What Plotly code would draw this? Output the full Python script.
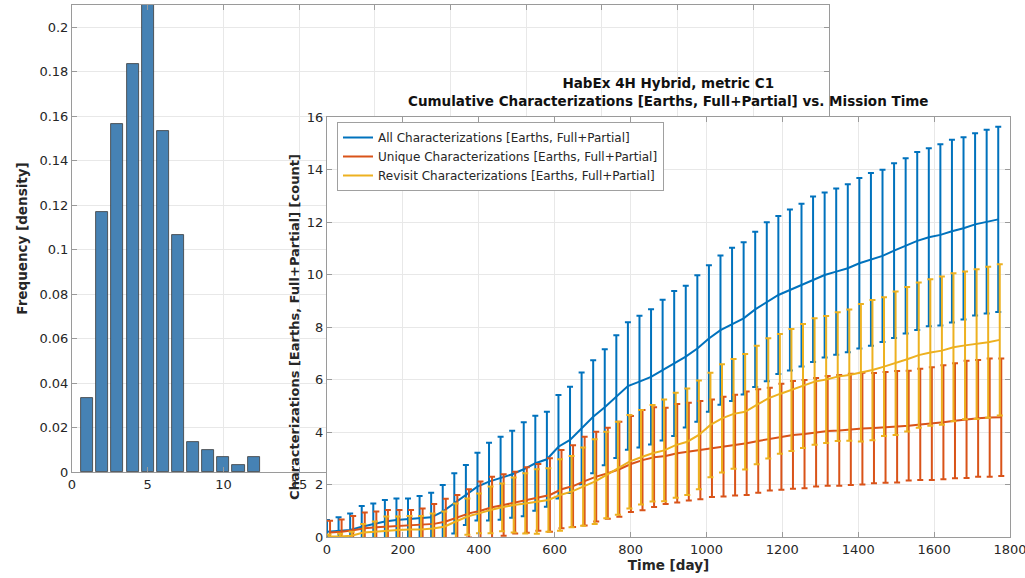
import plotly.graph_objects as go

# ---------------- data ----------------
# Left histogram
hist_bins = [1, 2, 3, 4, 5, 6, 7, 8, 9, 10, 11, 12]
hist_freq = [0.0333, 0.1167, 0.1567, 0.1833, 0.2167, 0.1533, 0.1067,
             0.0133, 0.0100, 0.0067, 0.0033, 0.0067]

# Right chart: mission time [day]
time_day = [0, 30.5, 61, 91.5, 122, 152.5, 183, 213.5, 244, 274.5, 305, 335.5,
            366, 396.5, 427, 457.5, 488, 518.5, 549, 579.5, 610, 640.5, 671,
            701.5, 732, 762.5, 793, 823.5, 854, 884.5, 915, 945.5, 976, 1006.5,
            1037, 1067.5, 1098, 1128.5, 1159, 1189.5, 1220, 1250.5, 1281,
            1311.5, 1342, 1372.5, 1403, 1433.5, 1464, 1494.5, 1525, 1555.5,
            1586, 1616.5, 1647, 1677.5, 1708, 1738.5, 1769]

all_mean = [0.20, 0.23, 0.27, 0.39, 0.50, 0.59, 0.65, 0.68, 0.71, 0.75, 0.97,
            1.28, 1.60, 1.92, 2.11, 2.24, 2.39, 2.58, 2.81, 2.96, 3.44, 3.70,
            4.14, 4.58, 4.94, 5.35, 5.75, 5.92, 6.10, 6.36, 6.61, 6.87, 7.18,
            7.56, 7.88, 8.10, 8.33, 8.67, 8.96, 9.22, 9.41, 9.60, 9.82, 9.98,
            10.11, 10.24, 10.43, 10.58, 10.71, 10.91, 11.09, 11.28, 11.42,
            11.51, 11.65, 11.76, 11.91, 12.01, 12.10]
all_std = [0.45, 0.52, 0.63, 0.79, 0.78, 0.82, 0.82, 0.79, 0.85, 0.94, 1.01,
           1.15, 1.14, 1.29, 1.48, 1.58, 1.66, 1.79, 1.81, 1.81, 1.97, 2.02,
           2.13, 2.15, 2.21, 2.34, 2.43, 2.51, 2.58, 2.68, 2.76, 2.70, 2.79,
           2.79, 2.84, 2.92, 2.90, 2.96, 3.03, 3.01, 3.07, 3.10, 3.15, 3.14,
           3.17, 3.20, 3.25, 3.29, 3.28, 3.33, 3.34, 3.39, 3.39, 3.45, 3.48,
           3.47, 3.47, 3.50, 3.53]

uniq_mean = [0.17, 0.20, 0.26, 0.33, 0.37, 0.40, 0.42, 0.44, 0.47, 0.50, 0.59,
             0.75, 0.90, 1.00, 1.13, 1.22, 1.31, 1.41, 1.51, 1.60, 1.82, 1.94,
             2.13, 2.30, 2.43, 2.58, 2.78, 2.93, 3.04, 3.09, 3.19, 3.25, 3.31,
             3.38, 3.44, 3.50, 3.57, 3.66, 3.73, 3.82, 3.89, 3.92, 3.99, 4.04,
             4.06, 4.10, 4.13, 4.15, 4.18, 4.20, 4.24, 4.29, 4.32, 4.37, 4.43,
             4.48, 4.52, 4.55, 4.56]
uniq_std = [0.45, 0.47, 0.54, 0.60, 0.60, 0.63, 0.61, 0.59, 0.62, 0.76, 0.87,
            0.85, 0.92, 1.11, 1.17, 1.17, 1.18, 1.25, 1.27, 1.40, 1.49, 1.56,
            1.69, 1.71, 1.73, 1.81, 1.83, 1.91, 1.90, 1.83, 1.88, 1.86, 1.87,
            1.86, 1.90, 1.92, 1.97, 1.97, 1.96, 2.02, 2.05, 2.06, 2.07, 2.09,
            2.11, 2.12, 2.13, 2.10, 2.11, 2.12, 2.09, 2.12, 2.15, 2.17, 2.19,
            2.23, 2.22, 2.25, 2.24]

rev_mean = [0.02, 0.02, 0.05, 0.17, 0.20, 0.24, 0.27, 0.29, 0.29, 0.32, 0.39,
            0.59, 0.78, 0.90, 1.03, 1.13, 1.22, 1.28, 1.35, 1.41, 1.60, 1.73,
            1.92, 2.11, 2.36, 2.62, 2.87, 3.04, 3.19, 3.30, 3.50, 3.63, 3.89,
            4.27, 4.52, 4.69, 4.77, 5.03, 5.28, 5.45, 5.60, 5.75, 5.92, 6.00,
            6.11, 6.17, 6.26, 6.36, 6.49, 6.62, 6.77, 6.93, 7.03, 7.10, 7.23,
            7.30, 7.35, 7.42, 7.51]
rev_std = [0.08, 0.10, 0.15, 0.33, 0.39, 0.54, 0.51, 0.51, 0.51, 0.58, 0.58,
           0.69, 0.69, 0.76, 0.89, 0.91, 1.05, 1.15, 1.23, 1.21, 1.36, 1.36,
           1.49, 1.61, 1.65, 1.77, 1.78, 1.80, 1.84, 1.94, 2.00, 2.03, 2.07,
           1.99, 2.06, 2.09, 2.20, 2.26, 2.29, 2.28, 2.32, 2.36, 2.41, 2.42,
           2.45, 2.50, 2.62, 2.67, 2.64, 2.73, 2.75, 2.77, 2.79, 2.82, 2.82,
           2.81, 2.85, 2.88, 2.88]

series_names = ["All Characterizations [Earths, Full+Partial]",
                "Unique Characterizations [Earths, Full+Partial]",
                "Revisit Characterizations [Earths, Full+Partial]"]

# ---------------- figure ----------------
W, H = 1025, 578
FONT = "DejaVu Sans"
TXT = "#262626"
AXC = "#9a9a9a"
GRID = "#e8e8e8"

def px_x(p):
    return p / W

def px_y(p):
    return 1 - p / H

fig = go.Figure()

fig.add_trace(go.Bar(
    x=hist_bins, y=hist_freq, width=0.8,
    marker=dict(color="#4682b4", line=dict(color="#3a3a3a", width=0.8)),
    xaxis="x", yaxis="y", showlegend=False))

colors = ["#0072bd", "#d95319", "#edb120"]
offsets = [0, 8, 4]
means = [all_mean, uniq_mean, rev_mean]
stds = [all_std, uniq_std, rev_std]
for name, c, off, m, s in zip(series_names, colors, offsets, means, stds):
    fig.add_trace(go.Scatter(
        x=[t + off for t in time_day], y=m, name=name, mode="lines",
        line=dict(color=c, width=2),
        error_y=dict(type="data", array=s, symmetric=True, color=c,
                     thickness=2, width=3),
        xaxis="x2", yaxis="y2"))

axis_common = dict(showline=True, linecolor=AXC, linewidth=1, mirror="ticks",
                   ticks="inside", ticklen=5, tickcolor=AXC, automargin=False,
                   ticklabeloverflow="allow",
                   showgrid=True, gridcolor=GRID, gridwidth=1, zeroline=False,
                   tickfont=dict(family=FONT, size=13, color=TXT))

fig.update_layout(
    width=W, height=H,
    margin=dict(l=0, r=0, t=0, b=0, pad=0, autoexpand=False),
    paper_bgcolor="white", plot_bgcolor="white",
    font=dict(family=FONT, color=TXT),
    bargap=0,
    xaxis=dict(domain=[px_x(72), px_x(829)], range=[0, 50], dtick=5,
               anchor="y", **axis_common),
    yaxis=dict(domain=[px_y(472), px_y(5)], range=[0, 0.21], dtick=0.02,
               anchor="x",
               title=dict(text="<b>Frequency [density]</b>",
                          font=dict(family=FONT, size=13.5, color=TXT),
                          standoff=8),
               **axis_common),
    xaxis2=dict(domain=[px_x(327), px_x(1010)], range=[0, 1800], dtick=200,
                anchor="y2",
                title=dict(text="<b>Time [day]</b>",
                           font=dict(family=FONT, size=13.5, color=TXT),
                           standoff=4),
                **axis_common),
    yaxis2=dict(domain=[px_y(537), px_y(117)], range=[0, 16], dtick=2,
                anchor="x2",
                title=dict(text="<b>Characterizations [Earths, Full+Partial] [count]</b>",
                           font=dict(family=FONT, size=13, color=TXT),
                           standoff=4),
                **axis_common),
    legend=dict(x=px_x(337), y=px_y(122), xanchor="left", yanchor="top",
                bgcolor="white", bordercolor="#a0a0a0", borderwidth=1,
                font=dict(family=FONT, size=12, color=TXT),
                tracegroupgap=0, itemwidth=30),
    annotations=[dict(
        text="<b>HabEx 4H Hybrid, metric C1</b><br><b>Cumulative Characterizations [Earths, Full+Partial] vs. Mission Time</b>",
        x=(px_x(327) + px_x(1010)) / 2, y=px_y(111), xref="paper", yref="paper",
        xanchor="center", yanchor="bottom", showarrow=False,
        font=dict(family=FONT, size=13.5, color="#111"), align="center")],
)

fig.write_html("out.html")
